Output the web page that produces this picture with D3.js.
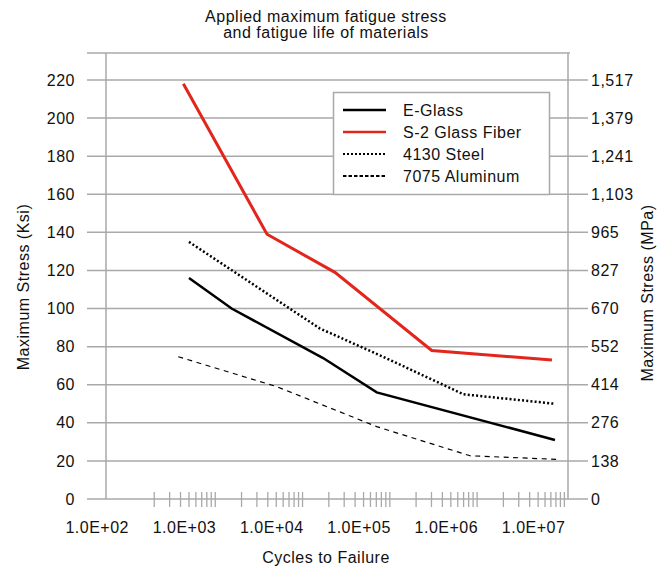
<!DOCTYPE html>
<html>
<head>
<meta charset="utf-8">
<script src="https://cdn.jsdelivr.net/npm/d3@7"></script>
<style>
  body { margin: 0; background: #fff; }
  text { font-family: "Liberation Sans Narrow", "Arial Narrow", "Liberation Sans", sans-serif; fill: #111; letter-spacing: 0.5px; font-size: 16px; }
</style>
</head>
<body>
<div id="chart"></div>
<script>
// cycles to failure vs maximum stress (ksi)
var eGlass = [
  {"cycles": 500,     "ksi": 116},
  {"cycles": 1540,    "ksi": 100},
  {"cycles": 17200,   "ksi": 74},
  {"cycles": 70800,   "ksi": 56},
  {"cycles": 7.8e6,   "ksi": 31},
]
var s2Glass = [
  {"cycles": 431,     "ksi": 218},
  {"cycles": 3920,    "ksi": 139},
  {"cycles": 23500,   "ksi": 119},
  {"cycles": 302000,  "ksi": 78},
  {"cycles": 7.2e6,   "ksi": 73},
]
var steel4130 = [
  {"cycles": 500,     "ksi": 135},
  {"cycles": 15700,   "ksi": 89.6},
  {"cycles": 83600,   "ksi": 74.7},
  {"cycles": 697000,  "ksi": 55},
  {"cycles": 7.8e6,   "ksi": 50},
]
var alu7075 = [
  {"cycles": 377,     "ksi": 74.7},
  {"cycles": 5060,    "ksi": 59},
  {"cycles": 70800,   "ksi": 38},
  {"cycles": 830000,  "ksi": 22.7},
  {"cycles": 8.2e6,   "ksi": 20.8},
]

// tick labels
var ksiTicks = [0, 20, 40, 60, 80, 100, 120, 140, 160, 180, 200, 220]
var mpaLabels = ["0", "138", "276", "414", "552", "670", "827", "965", "1,103", "1,241", "1,379", "1,517"]
var decades = [1e2, 1e3, 1e4, 1e5, 1e6, 1e7]
var decadeLabels = ["1.0E+02", "1.0E+03", "1.0E+04", "1.0E+05", "1.0E+06", "1.0E+07"]

var series = [
  {name: "E-Glass",         data: eGlass,    color: "#000",    width: 2.5, dash: null,  legendDash: null,  legendWidth: 2.5},
  {name: "S-2 Glass Fiber", data: s2Glass,   color: "#e2261c", width: 3,   dash: null,  legendDash: null,  legendWidth: 2.5},
  {name: "4130 Steel",      data: steel4130, color: "#000",    width: 2.5, dash: "2,2.2", legendDash: "2,2", legendWidth: 2},
  {name: "7075 Aluminum",   data: alu7075,   color: "#000",    width: 1.2, dash: "5,4.5", legendDash: "3.5,2", legendWidth: 2},
]

const W = 667, H = 571;
const plot = {left: 106, right: 568, top: 53, bottom: 499};

const svg = d3.select("#chart")
  .append("svg")
    .attr("width", W)
    .attr("height", H);

const x = d3.scaleLog()
  .domain([56, 1.1e7])
  .range([plot.left, plot.right]);

const y = d3.scaleLinear()
  .domain([0, 220])
  .range([plot.bottom, 80]);

const grid = "#a9a9a9";

// horizontal grid lines, running out past both axes as ticks
svg.append("g")
  .selectAll("line")
  .data(ksiTicks)
  .join("line")
    .attr("x1", 87)
    .attr("x2", 588)
    .attr("y1", d => y(d))
    .attr("y2", d => y(d))
    .attr("stroke", grid)
    .attr("stroke-width", 1.5);

// frame top
svg.append("line")
  .attr("x1", 87).attr("x2", 570)
  .attr("y1", plot.top).attr("y2", plot.top)
  .attr("stroke", grid).attr("stroke-width", 1.5);

// vertical axes
svg.append("line")
  .attr("x1", plot.left).attr("x2", plot.left)
  .attr("y1", plot.top).attr("y2", plot.bottom)
  .attr("stroke", grid).attr("stroke-width", 1.5);
svg.append("line")
  .attr("x1", plot.right).attr("x2", plot.right)
  .attr("y1", plot.top).attr("y2", plot.bottom)
  .attr("stroke", grid).attr("stroke-width", 1.5);

// log minor ticks on the x axis
var minor = [];
decades.slice(0, 5).forEach(function(d) {
  for (var m = 2; m <= 10; m++) minor.push(d * m);
});
svg.append("g")
  .selectAll("line")
  .data(minor)
  .join("line")
    .attr("x1", d => x(d))
    .attr("x2", d => x(d))
    .attr("y1", plot.bottom - 7)
    .attr("y2", plot.bottom + 8)
    .attr("stroke", grid)
    .attr("stroke-width", 1.3);

// left tick labels
svg.append("g")
  .selectAll("text")
  .data(ksiTicks)
  .join("text")
    .attr("x", 75)
    .attr("y", d => y(d))
    .attr("dy", "0.35em")
    .attr("text-anchor", "end")
    .text(d => d);

// right tick labels
svg.append("g")
  .selectAll("text")
  .data(ksiTicks)
  .join("text")
    .attr("x", 591)
    .attr("y", d => y(d))
    .attr("dy", "0.35em")
    .text((d, i) => mpaLabels[i]);

// x tick labels, right aligned on the decade
svg.append("g")
  .selectAll("text")
  .data(decades)
  .join("text")
    .attr("x", d => x(d) + 1)
    .attr("y", 533)
    .attr("text-anchor", "end")
    .text((d, i) => decadeLabels[i]);

// lines
const line = d3.line()
  .x(d => x(d.cycles))
  .y(d => y(d.ksi));

svg.append("g")
  .selectAll("path")
  .data(series)
  .join("path")
    .attr("d", d => line(d.data))
    .attr("fill", "none")
    .attr("stroke", d => d.color)
    .attr("stroke-width", d => d.width)
    .attr("stroke-dasharray", d => d.dash);

// legend
const lg = svg.append("g");
lg.append("rect")
  .attr("x", 333.5).attr("y", 92.5)
  .attr("width", 216).attr("height", 102)
  .attr("fill", "#fff")
  .attr("stroke", grid)
  .attr("stroke-width", 1.5);
const items = lg.selectAll("g")
  .data(series)
  .join("g")
    .attr("transform", (d, i) => `translate(343, ${110 + i * 22})`);
items.append("line")
  .attr("x1", 0).attr("x2", 43)
  .attr("stroke", d => d.color)
  .attr("stroke-width", d => d.legendWidth)
  .attr("stroke-dasharray", d => d.legendDash);
items.append("text")
  .attr("x", 60)
  .attr("dy", "0.35em")
  .text(d => d.name);

// titles
svg.append("text")
  .attr("x", 326).attr("y", 22)
  .attr("text-anchor", "middle")
  .text("Applied maximum fatigue stress");
svg.append("text")
  .attr("x", 326).attr("y", 38)
  .attr("text-anchor", "middle")
  .text("and fatigue life of materials");

svg.append("text")
  .attr("x", 326).attr("y", 563)
  .attr("text-anchor", "middle")
  .text("Cycles to Failure");

svg.append("text")
  .attr("transform", "translate(29, 287) rotate(-90)")
  .attr("text-anchor", "middle")
  .text("Maximum Stress (Ksi)");

svg.append("text")
  .attr("transform", "translate(653, 293) rotate(-90)")
  .attr("text-anchor", "middle")
  .text("Maximum Stress (MPa)");
</script>
</body>
</html>
